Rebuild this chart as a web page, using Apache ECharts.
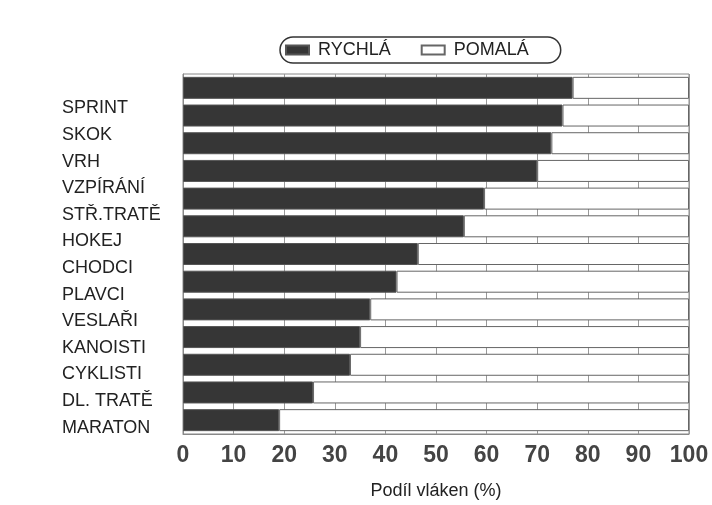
<!DOCTYPE html>
<html>
<head>
<meta charset="utf-8">
<script src="https://cdn.jsdelivr.net/npm/echarts@6/dist/echarts.min.js"></script>
<style>
  html, body { margin: 0; padding: 0; background: #fff; }
  #chart { width: 712px; height: 505px; }
</style>
</head>
<body>
<div id="chart"></div>
<script>
const categories = ['SPRINT', 'SKOK', 'VRH', 'VZPÍRÁNÍ', 'STŘ.TRATĚ', 'HOKEJ', 'CHODCI',
  'PLAVCI', 'VESLAŘI', 'KANOISTI', 'CYKLISTI', 'DL. TRATĚ', 'MARATON']
const rychla = [77, 75, 72.8, 70, 59.5, 55.5, 46.4, 42.2, 37, 35, 33, 25.7, 19]
const pomala = [23, 25, 27.2, 30, 40.5, 44.5, 53.6, 57.8, 63, 65, 67, 74.3, 81]
const xTicks = [0, 10, 20, 30, 40, 50, 60, 70, 80, 90, 100]

const chart = echarts.init(document.getElementById('chart'))
const font = 'Liberation Sans, Arial, sans-serif'

const option = {
  backgroundColor: '#fff',
  animation: false,
  legend: {
    top: 37,
    left: 280,
    data: ['RYCHLÁ', 'POMALÁ'],
    icon: 'rect',
    itemWidth: 23,
    itemHeight: 9,
    itemGap: 30,
    padding: [4, 32, 4, 5],
    borderColor: '#333',
    borderWidth: 1.5,
    borderRadius: 14,
    textStyle: { fontFamily: font, fontSize: 18, color: '#222', padding: [0, 0, 0, 4] }
  },
  grid: [
    {
      left: 183, right: 23, top: 74, bottom: 70,
      show: true, borderColor: '#888', borderWidth: 1
    },
    { left: 183, right: 23, top: 95, bottom: 64 }
  ],
  xAxis: [
    {
      type: 'value', gridIndex: 0, min: 0, max: 100, interval: 10,
      axisLine: { show: true, lineStyle: { color: '#888' } },
      axisTick: { show: false },
      splitLine: { show: true, lineStyle: { color: '#999', width: 1 } },
      axisLabel: {
        margin: 10, fontFamily: font, fontSize: 23, fontWeight: 'bold', color: '#444',
        formatter: v => xTicks.includes(v) ? String(v) : ''
      },
      name: 'Podíl vláken (%)',
      nameLocation: 'middle',
      nameGap: 48,
      nameTextStyle: { fontFamily: font, fontSize: 18, color: '#222' }
    },
    {
      type: 'value', gridIndex: 1, min: 0, max: 100, show: false
    }
  ],
  yAxis: [
    {
      type: 'category', gridIndex: 0, inverse: true, data: categories,
      axisLine: { show: true, lineStyle: { color: '#888' } },
      axisTick: { show: false },
      axisLabel: { show: false }
    },
    {
      type: 'category', gridIndex: 1, inverse: true, data: categories,
      axisLine: { show: false },
      axisTick: { show: false },
      axisLabel: {
        align: 'left', margin: 121,
        fontFamily: font, fontSize: 18, color: '#222'
      }
    }
  ],
  series: [
    {
      name: 'RYCHLÁ', type: 'bar', stack: 'all', data: rychla,
      xAxisIndex: 0, yAxisIndex: 0,
      barWidth: 22,
      itemStyle: { color: '#363636', borderColor: '#555', borderWidth: 1 }
    },
    {
      name: 'POMALÁ', type: 'bar', stack: 'all', data: pomala,
      xAxisIndex: 0, yAxisIndex: 0,
      barWidth: 22,
      itemStyle: { color: '#fff', borderColor: '#666', borderWidth: 1 }
    }
  ]
}

chart.setOption(option)
</script>
</body>
</html>
